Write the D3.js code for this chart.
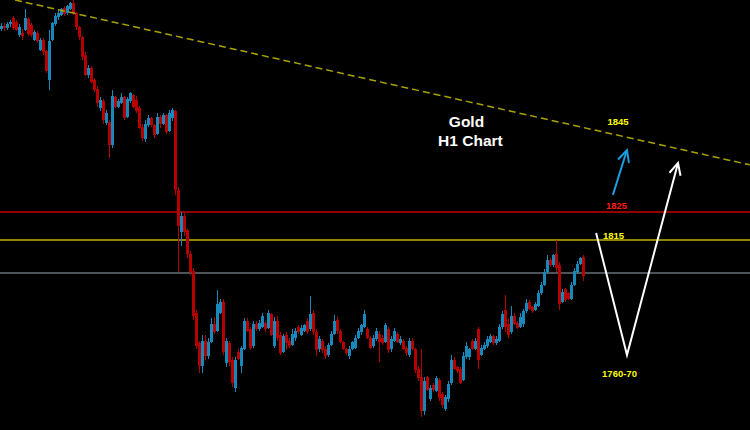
<!DOCTYPE html>
<html>
<head>
<meta charset="utf-8">
<script src="https://cdn.jsdelivr.net/npm/d3@7"></script>
<style>
html,body{margin:0;padding:0;background:#000;}
svg{display:block;}
</style>
</head>
<body>
<svg id="chart" width="750" height="430"></svg>
<script>
// ---- Gold H1 candles (price units) ----
const opens = [1890.5,1891.5,1890.8,1892.0,1894.2,1893.0,1888.2,1889.0,1890.0,1894.0,
1891.8,1886.5,1889.0,1883.0,1886.4,1882.5,1872.0,1886.4,1892.0,1894.5,
1895.5,1897.8,1896.0,1897.5,1899.5,1896.0,1891.0,1887.5,1881.0,1874.0,
1876.5,1872.0,1869.0,1862.2,1864.5,1856.8,1857.0,1849.0,1866.0,1862.5,
1864.0,1866.0,1859.0,1864.5,1866.8,1865.0,1862.0,1855.5,1851.0,1856.0,
1858.5,1856.0,1853.0,1859.0,1856.5,1859.5,1854.0,1858.5,1861.0,1833.0,
1818.0,1823.5,1818.5,1810.0,1804.0,1789.0,1778.0,1770.0,1779.0,1773.5,
1778.5,1785.0,1782.5,1789.0,1793.0,1771.0,1778.0,1772.0,1762.0,1774.8,
1770.0,1776.0,1786.0,1783.0,1777.0,1785.0,1783.0,1784.0,1785.5,1783.5,
1788.5,1777.0,1786.0,1781.0,1775.0,1781.0,1779.0,1777.5,1780.0,1784.0,
1781.0,1782.5,1786.0,1783.0,1789.0,1782.0,1776.0,1779.0,1776.0,1774.0,
1777.5,1781.5,1786.5,1782.5,1778.5,1776.0,1773.5,1776.0,1776.5,1780.0,
1782.0,1784.0,1783.0,1780.0,1777.0,1779.5,1781.5,1780.0,1778.5,1783.0,
1776.0,1779.0,1781.5,1778.0,1779.0,1776.5,1774.0,1779.0,1776.0,1769.0,
1766.0,1754.0,1766.0,1758.0,1763.0,1761.0,1765.0,1760.0,1754.5,1758.0,
1764.0,1772.0,1769.5,1769.0,1765.0,1773.0,1773.0,1779.0,1776.0,1783.0,
1774.0,1776.0,1777.0,1778.5,1780.5,1778.0,1779.0,1784.0,1790.0,1785.0,
1782.0,1788.0,1785.5,1784.0,1785.0,1789.5,1793.0,1791.0,1790.0,1791.5,
1796.0,1799.0,1803.5,1808.0,1806.0,1810.0,1806.0,1793.0,1797.5,1796.0,
1794.0,1799.0,1803.5,1806.5,1809.0];

const highs = [1892.5,1892.5,1893.0,1893.5,1895.0,1893.6,1892.0,1890.5,1897.5,1894.5,
1892.5,1890.0,1889.5,1887.0,1887.0,1883.0,1890.0,1893.0,1896.0,1897.0,
1898.0,1898.5,1899.0,1900.0,1900.7,1896.5,1891.5,1888.0,1882.0,1877.5,
1877.0,1873.0,1870.0,1866.0,1865.5,1861.5,1858.0,1868.6,1866.5,1865.5,
1867.5,1866.5,1866.0,1868.0,1867.2,1866.5,1863.0,1856.5,1858.0,1859.5,
1859.0,1856.5,1860.5,1859.5,1860.5,1860.0,1861.5,1862.2,1861.5,1834.0,
1824.8,1824.5,1819.0,1811.0,1805.0,1790.0,1779.0,1781.0,1781.0,1780.0,
1787.0,1787.5,1797.1,1794.0,1794.0,1780.0,1779.0,1773.0,1773.0,1776.0,
1777.0,1787.0,1787.0,1784.0,1786.0,1786.0,1786.5,1789.0,1786.0,1790.0,
1789.0,1787.5,1788.0,1782.0,1781.5,1782.0,1779.8,1783.0,1783.5,1784.5,
1784.5,1785.0,1787.0,1795.0,1790.0,1783.0,1780.5,1779.5,1777.0,1778.0,
1782.5,1788.2,1787.5,1783.0,1779.0,1776.5,1777.0,1779.0,1781.0,1783.5,
1785.0,1790.0,1784.0,1780.5,1781.0,1783.5,1782.5,1781.0,1785.5,1784.0,
1780.5,1783.5,1782.0,1780.5,1779.5,1777.0,1780.0,1780.0,1776.5,1770.0,
1776.0,1766.0,1766.5,1763.0,1764.0,1766.5,1765.5,1760.5,1759.5,1764.5,
1774.0,1773.0,1770.0,1769.5,1775.0,1778.5,1776.5,1779.5,1780.0,1784.0,
1777.5,1778.5,1780.5,1781.5,1781.0,1780.5,1785.0,1789.5,1795.4,1787.0,
1791.5,1789.0,1786.0,1789.0,1790.5,1794.0,1793.5,1791.5,1793.0,1797.0,
1800.0,1804.5,1809.5,1808.5,1810.0,1815.0,1807.0,1797.5,1798.0,1796.5,
1800.0,1805.0,1807.5,1809.0,1809.5];

const lows = [1889.5,1889.8,1890.0,1891.0,1890.0,1889.5,1887.5,1886.4,1889.5,1888.0,
1887.5,1886.0,1885.5,1882.5,1881.0,1874.8,1868.6,1886.0,1891.5,1893.5,
1895.0,1895.0,1895.5,1897.0,1895.5,1890.0,1886.5,1879.3,1873.5,1873.0,
1871.0,1868.0,1862.5,1861.0,1856.5,1856.0,1844.3,1848.0,1862.0,1862.0,
1863.5,1857.8,1858.5,1864.0,1862.0,1860.5,1854.5,1850.5,1850.0,1855.5,
1855.5,1851.5,1852.5,1855.0,1856.0,1853.0,1853.5,1857.5,1831.0,1803.6,
1813.0,1816.5,1808.5,1802.5,1786.4,1776.0,1767.5,1767.5,1772.0,1772.5,
1778.0,1781.5,1782.0,1788.5,1774.0,1769.5,1770.0,1762.5,1760.7,1772.0,
1767.5,1775.5,1782.0,1775.5,1776.5,1782.5,1782.5,1783.5,1782.0,1783.0,
1780.5,1776.5,1779.0,1774.0,1774.5,1775.5,1776.5,1777.0,1779.0,1781.5,
1780.5,1782.0,1781.5,1782.5,1781.0,1773.5,1775.0,1774.5,1772.5,1773.0,
1777.0,1781.0,1781.5,1778.0,1775.5,1774.0,1772.5,1775.5,1776.0,1779.5,
1781.0,1783.5,1779.5,1776.0,1776.5,1779.0,1771.4,1777.5,1778.0,1774.5,
1775.0,1778.5,1778.0,1777.5,1775.5,1773.5,1773.0,1775.5,1767.5,1764.5,
1751.8,1752.5,1761.0,1757.5,1760.5,1760.5,1757.5,1755.0,1754.0,1757.0,
1763.0,1768.5,1767.5,1763.5,1764.5,1772.5,1772.0,1775.5,1775.5,1769.0,
1773.5,1775.5,1776.5,1778.0,1777.5,1777.5,1778.5,1783.0,1782.0,1780.0,
1781.5,1784.5,1783.0,1783.5,1784.0,1789.0,1790.0,1789.0,1789.5,1791.0,
1795.5,1798.5,1803.0,1805.5,1805.5,1803.5,1790.0,1792.5,1793.0,1793.5,
1793.5,1798.5,1803.0,1806.0,1800.5];

const closes = [1891.5,1890.8,1892.0,1892.8,1890.7,1890.0,1891.0,1888.0,1894.2,1888.5,
1888.2,1889.2,1886.0,1886.4,1882.0,1875.5,1886.0,1892.5,1895.0,1896.0,
1897.5,1895.8,1898.5,1899.5,1896.0,1891.0,1887.5,1880.5,1874.0,1876.5,
1871.5,1868.6,1864.0,1865.0,1858.0,1860.5,1849.0,1866.5,1862.5,1864.5,
1866.0,1858.5,1865.5,1867.5,1862.5,1861.0,1855.0,1851.5,1856.5,1858.5,
1856.0,1852.5,1859.0,1856.5,1859.5,1853.5,1860.5,1861.5,1833.0,1820.0,
1823.5,1818.0,1810.0,1803.5,1788.0,1777.0,1770.0,1779.0,1773.5,1778.5,
1785.0,1782.0,1792.0,1793.0,1775.0,1779.0,1771.5,1764.0,1772.0,1772.5,
1776.5,1786.0,1782.5,1776.5,1785.0,1783.0,1785.5,1788.0,1783.0,1789.0,
1781.0,1786.0,1780.0,1774.5,1780.5,1778.0,1777.0,1781.5,1782.5,1782.0,
1783.5,1784.5,1782.0,1788.5,1782.0,1775.5,1779.5,1775.5,1773.5,1777.5,
1781.5,1786.0,1782.5,1778.5,1776.0,1774.5,1776.0,1778.5,1780.0,1782.5,
1784.5,1788.5,1780.0,1776.5,1780.0,1782.5,1778.5,1778.0,1784.5,1775.5,
1779.5,1782.5,1778.5,1779.5,1776.0,1774.5,1779.0,1776.0,1768.5,1765.5,
1754.0,1764.5,1761.5,1762.0,1761.5,1765.5,1758.5,1756.0,1759.0,1763.5,
1772.0,1769.0,1768.0,1764.0,1773.5,1777.0,1776.0,1776.0,1779.0,1772.0,
1776.5,1777.5,1779.5,1780.5,1778.0,1779.5,1784.0,1788.5,1784.0,1781.0,
1788.0,1785.0,1783.5,1787.5,1789.5,1792.5,1790.5,1789.5,1792.0,1796.0,
1799.0,1803.5,1808.0,1806.0,1809.5,1805.0,1792.0,1796.5,1793.5,1794.0,
1799.0,1804.0,1806.5,1808.5,1802.0];

// ---- annotations (bar index, price) ----
const levels = [1825, 1815, 1803.2];
const levelNames = ["resistance", "pivot", "last"];
const trendLine = [[5, 1900.7], [250, 1841.8]];
const pathWhite = [[198.7, 1817.5], [209, 1773.9], [226, 1842.5]];
const pathBlue = [[204.3, 1831.1], [209, 1847.1]];
const labelTexts = ["1845", "1825", "1815", "1760-70"];
const labelAnchors = [[206, 1856.2], [205.5, 1825.9], [204.5, 1815.5], [206.5, 1765.9]];
const titleLines = ["Gold", "H1 Chart"];
const titleAnchors = [[155.5, 1855.2], [156.8, 1848.7]];

const W = 750, H = 430;
const svg = d3.select("#chart");
svg.append("rect").attr("width", W).attr("height", H).attr("fill", "#000");

const x = d3.scaleLinear().domain([0, 250]).range([0, W]);
const y = d3.scaleLinear().domain([1747.1, 1900.7]).range([H, 0]);

const candles = closes.map((c, i) => ({i, o: opens[i], h: highs[i], l: lows[i], c}));
const upCol = "#1888bb", dnCol = "#b50000";

// horizontal levels
const levelCols = ["#960000", "#bfb000", "#4f535a"];
const levelW = [2, 1.5, 2];
svg.append("g").selectAll("line").data(levels).join("line")
  .attr("x1", 0).attr("x2", W)
  .attr("y1", d => y(d)).attr("y2", d => y(d))
  .attr("stroke", (d, k) => levelCols[k])
  .attr("stroke-width", (d, k) => levelW[k]);

// candles
const g = svg.append("g").attr("shape-rendering", "crispEdges");
g.selectAll("rect.wick").data(candles).join("rect")
  .attr("class", "wick")
  .attr("x", d => x(d.i) + 1).attr("width", 1)
  .attr("y", d => y(d.h)).attr("height", d => Math.max(1, y(d.l) - y(d.h)))
  .attr("fill", d => d.c >= d.o ? upCol : dnCol);
g.selectAll("rect.body").data(candles).join("rect")
  .attr("class", "body")
  .attr("x", d => x(d.i)).attr("width", 3)
  .attr("y", d => y(Math.max(d.o, d.c)))
  .attr("height", d => Math.max(1, Math.abs(y(d.o) - y(d.c))))
  .attr("fill", d => d.c >= d.o ? upCol : dnCol);

// dashed trend line
svg.append("line")
  .attr("x1", x(trendLine[0][0])).attr("y1", y(trendLine[0][1]))
  .attr("x2", x(trendLine[1][0])).attr("y2", y(trendLine[1][1]))
  .attr("stroke", "#aaa200").attr("stroke-width", 1.5)
  .attr("stroke-dasharray", "7,4");

// arrows
const line = d3.line().x(d => x(d[0])).y(d => y(d[1]));
function arrow(pts, col) {
  svg.append("path").attr("d", line(pts)).attr("fill", "none")
    .attr("stroke", col).attr("stroke-width", 2).attr("stroke-linejoin", "miter");
  const a = pts[pts.length - 2], b = pts[pts.length - 1];
  const tx = x(b[0]), ty = y(b[1]);
  const ang = Math.atan2(y(a[1]) - ty, x(a[0]) - tx);
  const len = 13, spread = 26 * Math.PI / 180;
  const p = [ang - spread, ang + spread].map(t => [tx + len * Math.cos(t), ty + len * Math.sin(t)]);
  svg.append("path")
    .attr("d", `M${p[0][0]},${p[0][1]}L${tx},${ty}L${p[1][0]},${p[1][1]}`)
    .attr("fill", "none").attr("stroke", col).attr("stroke-width", 2);
}
arrow(pathWhite, "#ffffff");
arrow(pathBlue, "#1a9ee0");

// labels
const labelCols = ["#ffff00", "#ff1a1a", "#ffff00", "#ffff00"];
svg.append("g").selectAll("text").data(labelTexts).join("text")
  .attr("x", (d, k) => x(labelAnchors[k][0]))
  .attr("y", (d, k) => y(labelAnchors[k][1]))
  .attr("text-anchor", "middle")
  .attr("font-family", "Liberation Sans, Arial, sans-serif")
  .attr("font-weight", "bold").attr("font-size", 9.5)
  .attr("fill", (d, k) => labelCols[k])
  .text(d => d);

svg.append("g").selectAll("text").data(titleLines).join("text")
  .attr("x", (d, k) => x(titleAnchors[k][0]))
  .attr("y", (d, k) => y(titleAnchors[k][1]))
  .attr("text-anchor", "middle")
  .attr("font-family", "Liberation Sans, Arial, sans-serif")
  .attr("font-weight", "bold").attr("font-size", 15.5)
  .attr("fill", "#ffffff")
  .text(d => d);
</script>
</body>
</html>
